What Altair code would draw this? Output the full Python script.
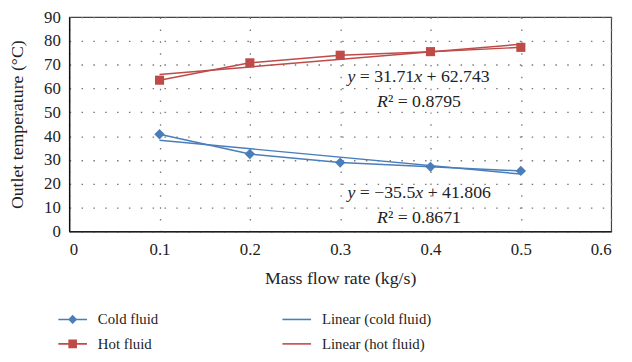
import altair as alt
import pandas as pd

# ---- data ----
flow = [0.1, 0.2, 0.3, 0.4, 0.5]
cold = [40.8, 32.5, 28.9, 27.1, 25.4]
hot = [63.5, 70.8, 74.0, 75.5, 77.3]

fit_names = ["Linear (cold fluid)", "Linear (hot fluid)"]
fit_slope = [-35.5, 31.71]
fit_intercept = [41.806, 62.743]
fit_x = [0.1, 0.5]

series = ["Cold fluid", "Hot fluid", "Linear (cold fluid)", "Linear (hot fluid)"]
BLUE = "#4A7EBB"
RED = "#BE4B48"
colors = [BLUE, RED, BLUE, RED]

x_ticks = [0, 0.1, 0.2, 0.3, 0.4, 0.5, 0.6]
y_ticks = [0, 10, 20, 30, 40, 50, 60, 70, 80, 90]

# annotation pieces: (text, italic, dx) per row, anchored at eq_x / row y
eq_x = 0.308
eq_rows_y = [64.7, 54.3, 16.2, 5.4]
eq_rows = [
    [("y", True, 0), ("= 31.71", False, 12.5), ("x", True, 67.6), ("+ 62.743", False, 80.1)],
    [("R", True, 30), ("\u00b2 = 0.8795", False, 41)],
    [("y", True, 0), ("= \u221235.5", False, 12.5), ("x", True, 68.8), ("+ 41.806", False, 81.3)],
    [("R", True, 30), ("\u00b2 = 0.8671", False, 41)],
]

FONT = "Liberation Serif"
TXT = "#222222"

# ---- frames ----
df_cold = pd.DataFrame({"x": flow, "y": cold})
df_hot = pd.DataFrame({"x": flow, "y": hot})
fit_rows = []
for name, m, b in zip(fit_names, fit_slope, fit_intercept):
    for xv in fit_x:
        fit_rows.append({"x": xv, "y": m * xv + b, "series": name})
df_fit = pd.DataFrame(fit_rows)
df_leg = pd.DataFrame({"series": series})

X = alt.X("x:Q", scale=alt.Scale(domain=[0, 0.6], nice=False),
          axis=alt.Axis(values=x_ticks, format=".1~f", title="Mass flow rate (kg/s)",
                        titleX=274.5, titleY=48, titleBaseline="middle",
                        labelPadding=10))
Y = alt.Y("y:Q", scale=alt.Scale(domain=[0, 90], nice=False),
          axis=alt.Axis(values=y_ticks, title="Outlet temperature (\u00b0C)",
                        titleX=-52, titleY=108.5, titleAngle=-90, titleBaseline="middle",
                        titleAlign="center", labelPadding=9))

fit_cold = alt.Chart(df_fit).transform_filter(alt.datum.series == fit_names[0]).mark_line(
    color=BLUE, strokeWidth=1.5).encode(x=X, y=Y)
fit_hot = alt.Chart(df_fit).transform_filter(alt.datum.series == fit_names[1]).mark_line(
    color=RED, strokeWidth=1.5).encode(x=X, y=Y)

cold_line = alt.Chart(df_cold).mark_line(color=BLUE, strokeWidth=1.5).encode(x=X, y=Y)
hot_line = alt.Chart(df_hot).mark_line(color=RED, strokeWidth=1.5).encode(x=X, y=Y)
cold_pts = alt.Chart(df_cold).mark_point(shape="diamond", filled=True, size=110,
                                         color=BLUE, opacity=1).encode(x=X, y=Y)
hot_pts = alt.Chart(df_hot).mark_point(shape="square", filled=True, size=85,
                                       color=RED, opacity=1).encode(x=X, y=Y)

line_path = "M-1,-0.055H1V0.055H-1Z"
shapes = [
    line_path + " M0,-0.32L0.32,0L0,0.32L-0.32,0Z",
    line_path + " M-0.3,-0.3H0.3V0.3H-0.3Z",
    line_path,
    line_path,
]
leg = alt.Legend(title=None, orient="none", legendX=-11, legendY=291.5, columns=2,
                 columnPadding=125, rowPadding=2, symbolSize=841, symbolStrokeWidth=0,
                 labelFont=FONT, labelFontSize=15, labelOffset=11, labelColor=TXT,
                 padding=0, symbolOpacity=1)
legend_layer = alt.Chart(df_leg).transform_filter("false").mark_point(filled=True).encode(
    color=alt.Color("series:N", scale=alt.Scale(domain=series, range=colors), legend=leg),
    shape=alt.Shape("series:N", scale=alt.Scale(domain=series, range=shapes), legend=leg),
)

text_layers = []
for row, yv in zip(eq_rows, eq_rows_y):
    for txt, ital, dx in row:
        d = pd.DataFrame({"x": [eq_x], "y": [yv], "t": [txt]})
        text_layers.append(
            alt.Chart(d).mark_text(align="left", baseline="middle", dx=dx, font=FONT,
                                   fontSize=18, color=TXT,
                                   fontStyle="italic" if ital else "normal").encode(
                x=X, y=Y, text="t:N")
        )

chart = alt.layer(fit_cold, fit_hot, cold_line, hot_line, cold_pts, hot_pts,
                  *text_layers, legend_layer).properties(
    width=549, height=217, autosize="none",
    padding={"left": 62, "top": 7, "right": 13, "bottom": 122},
).configure_view(stroke="#444444", strokeWidth=1.2).configure_axis(
    grid=True, gridColor="#777777", gridDash=[1.5, 10.5], gridWidth=1.3,
    ticks=False, tickSize=0, domain=True, domainColor="#111111", domainWidth=1.4,
    labelFont=FONT, labelFontSize=17, labelColor=TXT,
    titleFont=FONT, titleFontSize=18, titleFontWeight="normal", titleColor=TXT,
).configure_axisX(labelBaseline="top").configure_axisY(labelAlign="right")

chart.save("out.html", embed_options={"renderer": "svg", "actions": False})
